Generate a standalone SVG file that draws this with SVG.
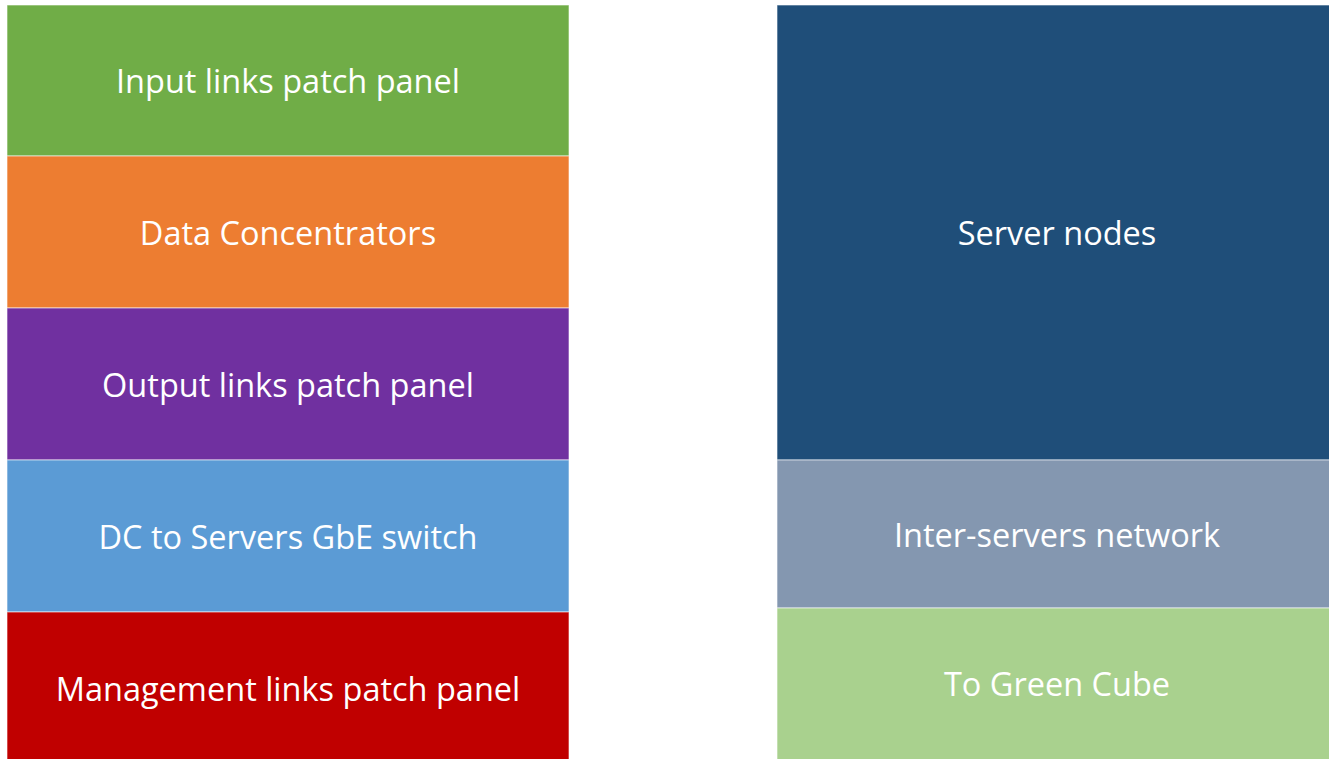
<svg xmlns="http://www.w3.org/2000/svg" width="1329" height="759" viewBox="0 0 1329 759">
<style>
.box{stroke:#ffffff;stroke-width:1;stroke-opacity:0.6}
.lbl{font-family:"Open Sans","Liberation Sans",sans-serif;font-size:32.5px;fill:#ffffff;text-anchor:middle;dominant-baseline:central}
</style>
<rect width="1329" height="759" fill="#ffffff"/>
<g id="input-links-patch-panel"><rect class="box" x="7" y="5" width="562" height="151" fill="#70AD47"/><text class="lbl" x="288" y="80">Input links patch panel</text></g>
<g id="data-concentrators"><rect class="box" x="7" y="156" width="562" height="152" fill="#ED7D31"/><text class="lbl" x="288" y="232">Data Concentrators</text></g>
<g id="output-links-patch-panel"><rect class="box" x="7" y="308" width="562" height="152" fill="#7030A0"/><text class="lbl" x="288" y="384">Output links patch panel</text></g>
<g id="dc-to-servers-switch"><rect class="box" x="7" y="460" width="562" height="152" fill="#5B9BD5"/><text class="lbl" x="288" y="536">DC to Servers GbE switch</text></g>
<g id="management-links-patch-panel"><rect class="box" x="7" y="612" width="562" height="148" fill="#C00000"/><text class="lbl" x="288" y="688">Management links patch panel</text></g>
<g id="server-nodes"><rect class="box" x="777" y="5" width="553" height="455" fill="#1F4E79"/><text class="lbl" x="1057" y="232">Server nodes</text></g>
<g id="inter-servers-network"><rect class="box" x="777" y="460" width="553" height="148" fill="#8497B0"/><text class="lbl" x="1057" y="534">Inter-servers network</text></g>
<g id="to-green-cube"><rect class="box" x="777" y="608" width="553" height="152" fill="#A9D18E"/><text class="lbl" x="1057" y="683">To Green Cube</text></g>
<g id="connectors"></g>
</svg>
